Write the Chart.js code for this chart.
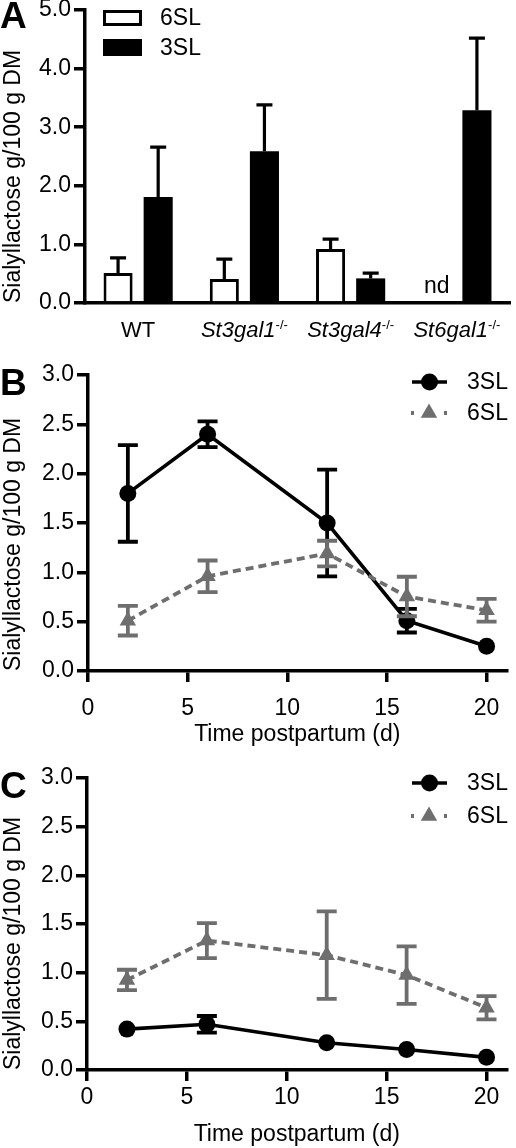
<!DOCTYPE html>
<html><head><meta charset="utf-8">
<script src="https://cdn.jsdelivr.net/npm/chart.js@4.4.1/dist/chart.umd.min.js"></script>
<style>
html,body{margin:0;padding:0;background:#fff;}
body{width:516px;height:1148px;position:relative;overflow:hidden;font-family:"Liberation Sans",Arial,Helvetica,sans-serif;color:#000;}
canvas{position:absolute;left:0;}
.lbl{position:absolute;font-size:22px;line-height:26px;white-space:nowrap;text-align:center;}
.lbl i{font-style:italic;}
.lbl sup{font-size:13px;line-height:0;vertical-align:baseline;position:relative;top:-8px;}
.panel{position:absolute;left:0;font-weight:bold;font-size:37px;line-height:37px;}
</style></head>
<body>
<canvas id="cA" width="516" height="345" style="top:0px"></canvas>
<canvas id="cB" width="516" height="390" style="top:360px"></canvas>
<canvas id="cC" width="516" height="388" style="top:760px"></canvas>
<div class="panel" style="top:-3px">A</div>
<div class="panel" style="top:364px">B</div>
<div class="panel" style="top:767px">C</div>
<script>
// ---------- data ----------
const categories = ['WT', 'St3gal1-/-', 'St3gal4-/-', 'St6gal1-/-'];
const a6SL   = [0.51, 0.41, 0.92, null];
const a6SLsd = [0.26, 0.34, 0.17, null];
const a3SL   = [1.81, 2.59, 0.42, 3.29];
const a3SLsd = [0.85, 0.79, 0.09, 1.23];
const yTicksA = [0, 1, 2, 3, 4, 5];

const days = [2, 6, 12, 16, 20];
const b3SL   = [1.80, 2.40, 1.50, 0.51, 0.25];
const b3SLsd = [0.49, 0.13, 0.54, 0.12, 0];
const b6SL   = [0.51, 0.96, 1.19, 0.755, 0.615];
const b6SLsd = [0.15, 0.16, 0.13, 0.20, 0.115];

const c3SL   = [0.42, 0.47, 0.28, 0.21, 0.13];
const c3SLsd = [0, 0.085, 0, 0, 0];
const c6SL   = [0.925, 1.33, 1.18, 0.975, 0.64];
const c6SLsd = [0.105, 0.18, 0.45, 0.295, 0.12];

const yTicksBC = [0, 0.5, 1, 1.5, 2, 2.5, 3];
const xTicksBC = [0, 5, 10, 15, 20];

const yTitle = 'Sialyllactose g/100 g DM';
const xTitle = 'Time postpartum (d)';

// ---------- style ----------
const FONT = '"Liberation Sans", Arial, Helvetica, sans-serif';
const GRAY = '#6e6e6e';
Chart.defaults.font.family = FONT;
Chart.defaults.font.size = 22;
Chart.defaults.color = '#000';

// ---------- plugins ----------
function drawErrors(chart, index, phase) {
  const ds = chart.data.datasets[index];
  if (!ds.errors || ds.errorPhase !== phase) return;
  const meta = chart.getDatasetMeta(index);
  if (meta.hidden) return;
  const ys = chart.scales.y;
  const ctx = chart.ctx;
  ctx.save();
  ctx.strokeStyle = ds.errorColor;
  ctx.lineWidth = ds.errorWidth;
  ctx.lineCap = 'butt';
  const half = ds.capWidth / 2;
  meta.data.forEach((el, i) => {
    const d = ds.data[i];
    const v = (d !== null && typeof d === 'object') ? d.y : d;
    const e = ds.errors[i];
    if (v === null || v === undefined || !e) return;
    const x = el.x;
    const yTop = ys.getPixelForValue(v + e);
    const yBot = ds.errorBoth ? ys.getPixelForValue(v - e) : ys.getPixelForValue(v);
    ctx.beginPath();
    ctx.moveTo(x, yBot); ctx.lineTo(x, yTop);
    ctx.moveTo(x - half, yTop); ctx.lineTo(x + half, yTop);
    if (ds.errorBoth) { ctx.moveTo(x - half, yBot); ctx.lineTo(x + half, yBot); }
    ctx.stroke();
  });
  ctx.restore();
}
const errorBarPlugin = {
  id: 'errorBars',
  beforeDatasetDraw(chart, args) { drawErrors(chart, args.index, 'before'); },
  afterDatasetDraw(chart, args) { drawErrors(chart, args.index, 'after'); }
};

const legendPlugin = {
  id: 'customLegend',
  afterDraw(chart, args, opts) {
    if (!opts || !opts.items) return;
    const ctx = chart.ctx;
    ctx.save();
    ctx.font = '23px ' + FONT;
    ctx.textBaseline = 'middle';
    ctx.textAlign = 'left';
    opts.items.forEach((it) => {
      const ds = chart.data.datasets[it.dataset];
      if (it.kind === 'box') {
        ctx.fillStyle = ds.backgroundColor;
        ctx.fillRect(it.x, it.y, it.w, it.h);
        ctx.lineWidth = 3;
        ctx.strokeStyle = ds.borderColor;
        ctx.strokeRect(it.x + 1.5, it.y + 1.5, it.w - 3, it.h - 3);
        ctx.fillStyle = '#000';
        ctx.fillText(ds.label, it.tx, it.y + it.h / 2 + 1);
      } else {
        ctx.strokeStyle = ds.borderColor;
        ctx.lineWidth = ds.borderWidth;
        ctx.setLineDash(it.dash || []);
        ctx.beginPath();
        ctx.moveTo(it.x, it.y); ctx.lineTo(it.x + it.w, it.y);
        ctx.stroke();
        ctx.setLineDash([]);
        ctx.fillStyle = ds.pointBackgroundColor;
        ctx.strokeStyle = ds.pointBackgroundColor;
        Chart.helpers.drawPoint(ctx, {pointStyle: ds.pointStyle, radius: ds.pointRadius, borderWidth: 0, rotation: 0}, it.x + it.w / 2, it.y);
        ctx.fillStyle = '#000';
        ctx.fillText(ds.label, it.tx, it.y + 1);
      }
    });
    ctx.restore();
  }
};

function yScale(min, max, tickVals, width) {
  return {
    type: 'linear', min: min, max: max,
    afterBuildTicks(s) { s.ticks = tickVals.map(v => ({value: v})); },
    ticks: { font: {size: 23}, color: '#000', padding: 3, callback: v => Number(v).toFixed(1) },
    grid: { display: true, drawOnChartArea: false, drawTicks: true, tickLength: 11, lineWidth: 3.5, color: '#000' },
    border: { display: true, width: 3.5, color: '#000' },
    title: { display: true, text: yTitle, font: {size: 23}, color: '#000', padding: {top: 0, bottom: 0}, align: 'start' },
    afterFit(s) { s.width = width; s.paddingTop = 0; s.paddingBottom = 0; }
  };
}
function xLinear(height, tickPad, titlePad) {
  return {
    type: 'linear', min: 0, max: 21,
    afterBuildTicks(s) { s.ticks = xTicksBC.map(v => ({value: v})); },
    ticks: { font: {size: 23}, color: '#000', padding: tickPad, includeBounds: false },
    grid: { display: true, drawOnChartArea: false, drawTicks: true, tickLength: 11, lineWidth: 3.5, color: '#000' },
    border: { display: true, width: 3.5, color: '#000' },
    title: { display: true, text: xTitle, font: {size: 23}, color: '#000', padding: {top: 0, bottom: titlePad} },
    afterFit(s) { s.height = height; s.paddingLeft = 0; s.paddingRight = 0; }
  };
}

// ---------- Panel A ----------
const chartA = new Chart(document.getElementById('cA'), {
  type: 'bar',
  data: {
    labels: categories,
    datasets: [
      { label: '6SL', data: a6SL, errors: a6SLsd, errorPhase: 'after', errorColor: '#000', errorWidth: 3.2, capWidth: 16,
        backgroundColor: '#fff', borderColor: '#000', borderWidth: 3 },
      { label: '3SL', data: a3SL, errors: a3SLsd, errorPhase: 'after', errorColor: '#000', errorWidth: 3.2, capWidth: 16,
        backgroundColor: '#000', borderColor: '#000', borderWidth: 0 }
    ]
  },
  options: {
    responsive: false, animation: false,
    layout: { padding: {top: 10, left: 0, right: 6, bottom: 0} },
    datasets: { bar: { barPercentage: 0.725, categoryPercentage: 0.755 } },
    scales: {
      x: { type: 'category', ticks: {display: false}, grid: {display: false, drawTicks: false},
           border: {display: true, width: 3.5, color: '#000'},
           afterFit(s) { s.height = 42; s.paddingLeft = 0; s.paddingRight = 0; } },
      y: yScale(0, 5, yTicksA, 85)
    },
    plugins: {
      legend: {display: false}, tooltip: {enabled: false},
      customLegend: { items: [
        {dataset: 0, kind: 'box', x: 103, y: 10, w: 39, h: 16, tx: 160},
        {dataset: 1, kind: 'box', x: 103, y: 39, w: 39, h: 17, tx: 160}
      ]}
    }
  },
  plugins: [errorBarPlugin, legendPlugin]
});

// category labels for panel A (italic gene names with superscript)
(function () {
  const xs = chartA.scales.x;
  categories.forEach((c, i) => {
    const px = xs.getPixelForValue(i);
    const div = document.createElement('div');
    div.className = 'lbl';
    div.style.left = (px - 70) + 'px';
    div.style.width = '140px';
    div.style.top = '317px';
    const k = c.indexOf('-');
    if (k < 0) div.textContent = c;
    else div.innerHTML = '<i>' + c.slice(0, k) + '</i><sup>' + c.slice(k) + '</sup>';
    document.body.appendChild(div);
  });
  const step = xs.getPixelForValue(1) - xs.getPixelForValue(0);
  const idx = a6SL.findIndex(v => v === null);
  const ndx = xs.getPixelForValue(idx) - step * 0.755 / 4;
  const nd = document.createElement('div');
  nd.className = 'lbl';
  nd.style.left = (ndx - 30) + 'px';
  nd.style.width = '60px';
  nd.style.top = '272px';
  nd.style.fontSize = '23px';
  nd.textContent = 'nd';
  document.body.appendChild(nd);
})();

// ---------- Panels B and C ----------
function lineChart(id, d3, e3, d6, e6, opts) {
  return new Chart(document.getElementById(id), {
    type: 'line',
    data: {
      datasets: [
        { label: '3SL', data: days.map((x, i) => ({x: x, y: d3[i]})), order: 1,
          errors: e3, errorBoth: true, errorPhase: 'before', errorColor: '#000', errorWidth: 3.8, capWidth: 20,
          borderColor: '#000', borderWidth: 3.6, tension: 0,
          pointStyle: 'circle', pointRadius: 8.5, pointBackgroundColor: '#000', pointBorderColor: '#000', pointBorderWidth: 0 },
        { label: '6SL', data: days.map((x, i) => ({x: x, y: d6[i]})), order: 0,
          errors: e6, errorBoth: true, errorPhase: 'before', errorColor: GRAY, errorWidth: 3.8, capWidth: 20,
          borderColor: GRAY, borderWidth: 3.8, borderDash: [8, 5], tension: 0,
          pointStyle: 'triangle', pointRadius: 9.5, pointBackgroundColor: GRAY, pointBorderColor: GRAY, pointBorderWidth: 0 }
      ]
    },
    options: {
      responsive: false, animation: false,
      layout: { padding: opts.padding },
      scales: {
        x: xLinear(opts.xHeight, opts.tickPad, opts.titlePad),
        y: yScale(0, 3, yTicksBC, opts.yWidth)
      },
      plugins: {
        legend: {display: false}, tooltip: {enabled: false},
        customLegend: { items: [
          {dataset: 0, kind: 'line', x: 412, y: opts.legY[0], w: 35, tx: 467},
          {dataset: 1, kind: 'line', x: 411, y: opts.legY[1], w: 36, tx: 467, dash: [3, 30]}
        ]}
      }
    },
    plugins: [errorBarPlugin, legendPlugin]
  });
}

lineChart('cB', b3SL, b3SLsd, b6SL, b6SLsd,
  {padding: {top: 15, left: 0, right: 2, bottom: 0}, xHeight: 79, tickPad: 13, titlePad: 2, yWidth: 88, legY: [22, 53]});
lineChart('cC', c3SL, c3SLsd, c6SL, c6SLsd,
  {padding: {top: 18, left: 0, right: 3, bottom: 0}, xHeight: 78, tickPad: 3, titlePad: 0, yWidth: 87, legY: [23, 56]});
</script>
</body></html>
